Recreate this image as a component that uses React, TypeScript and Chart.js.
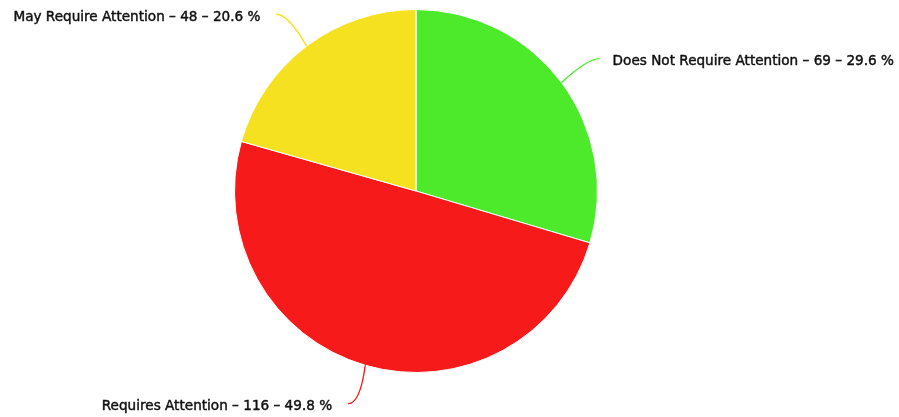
import React, { useEffect, useRef } from "react";
import { Chart, registerables } from "chart.js";

Chart.register(...registerables);

const categories = ["Does Not Require Attention", "Requires Attention", "May Require Attention"];
const values = [69, 116, 48];
const colors = ["#4cea2a", "#f61a1a", "#f6e120"];

const labelPlugin = {
  id: "pieLabels",
  afterDatasetsDraw(chart: any) {
    const ctx = chart.ctx as CanvasRenderingContext2D;
    const meta = chart.getDatasetMeta(0);
    const total = values.reduce((a, b) => a + b, 0);
    meta.data.forEach((arc: any, i: number) => {
      const { x, y, startAngle, endAngle, outerRadius } = arc.getProps(
        ["x", "y", "startAngle", "endAngle", "outerRadius"],
        true
      );
      const mid = (startAngle + endAngle) / 2;
      const cos = Math.cos(mid);
      const sin = Math.sin(mid);
      const right = cos >= 0;
      const dir = right ? 1 : -1;
      const ex = x + outerRadius * cos;
      const ey = y + outerRadius * sin;
      const R = outerRadius + 40;
      const ax = x + R * cos + dir * 6;
      const ay = y + R * sin;
      ctx.save();
      ctx.strokeStyle = colors[i];
      ctx.lineWidth = 1.4;
      ctx.beginPath();
      ctx.moveTo(ax, ay);
      ctx.quadraticCurveTo(ax - dir * 12, ay, ex, ey);
      ctx.stroke();
      const pct = ((values[i] / total) * 100).toFixed(1);
      const text = `${categories[i]} – ${values[i]} – ${pct} %`;
      ctx.font = "13.6px 'DejaVu Sans'";
      ctx.fillStyle = "#111";
      ctx.strokeStyle = "#111";
      ctx.lineWidth = 0.45;
      ctx.textAlign = right ? "left" : "right";
      ctx.textBaseline = "middle";
      const tx = ax + dir * (right ? 13 : 16);
      const ty = ay + 3;
      ctx.fillText(text, tx, ty);
      ctx.strokeText(text, tx, ty);
      ctx.restore();
    });
  },
};

export default function App() {
  const ref = useRef<HTMLCanvasElement | null>(null);
  useEffect(() => {
    if (!ref.current) return;
    const chart = new Chart(ref.current, {
      type: "pie",
      data: {
        labels: categories,
        datasets: [
          {
            data: values,
            backgroundColor: colors,
            borderColor: "#ffffff",
            borderWidth: 1,
          },
        ],
      },
      options: {
        responsive: false,
        animation: false,
        layout: { padding: { top: 9, bottom: 44, left: 100, right: 167 } },
        plugins: {
          legend: { display: false },
          tooltip: { enabled: false },
        },
      },
      plugins: [labelPlugin],
    });
    return () => chart.destroy();
  }, []);
  return (
    <div style={{ position: "fixed", left: 0, top: 0, width: 899, height: 417, background: "#fff" }}>
      <canvas ref={ref} width={899} height={417} style={{ display: "block" }} />
    </div>
  );
}
